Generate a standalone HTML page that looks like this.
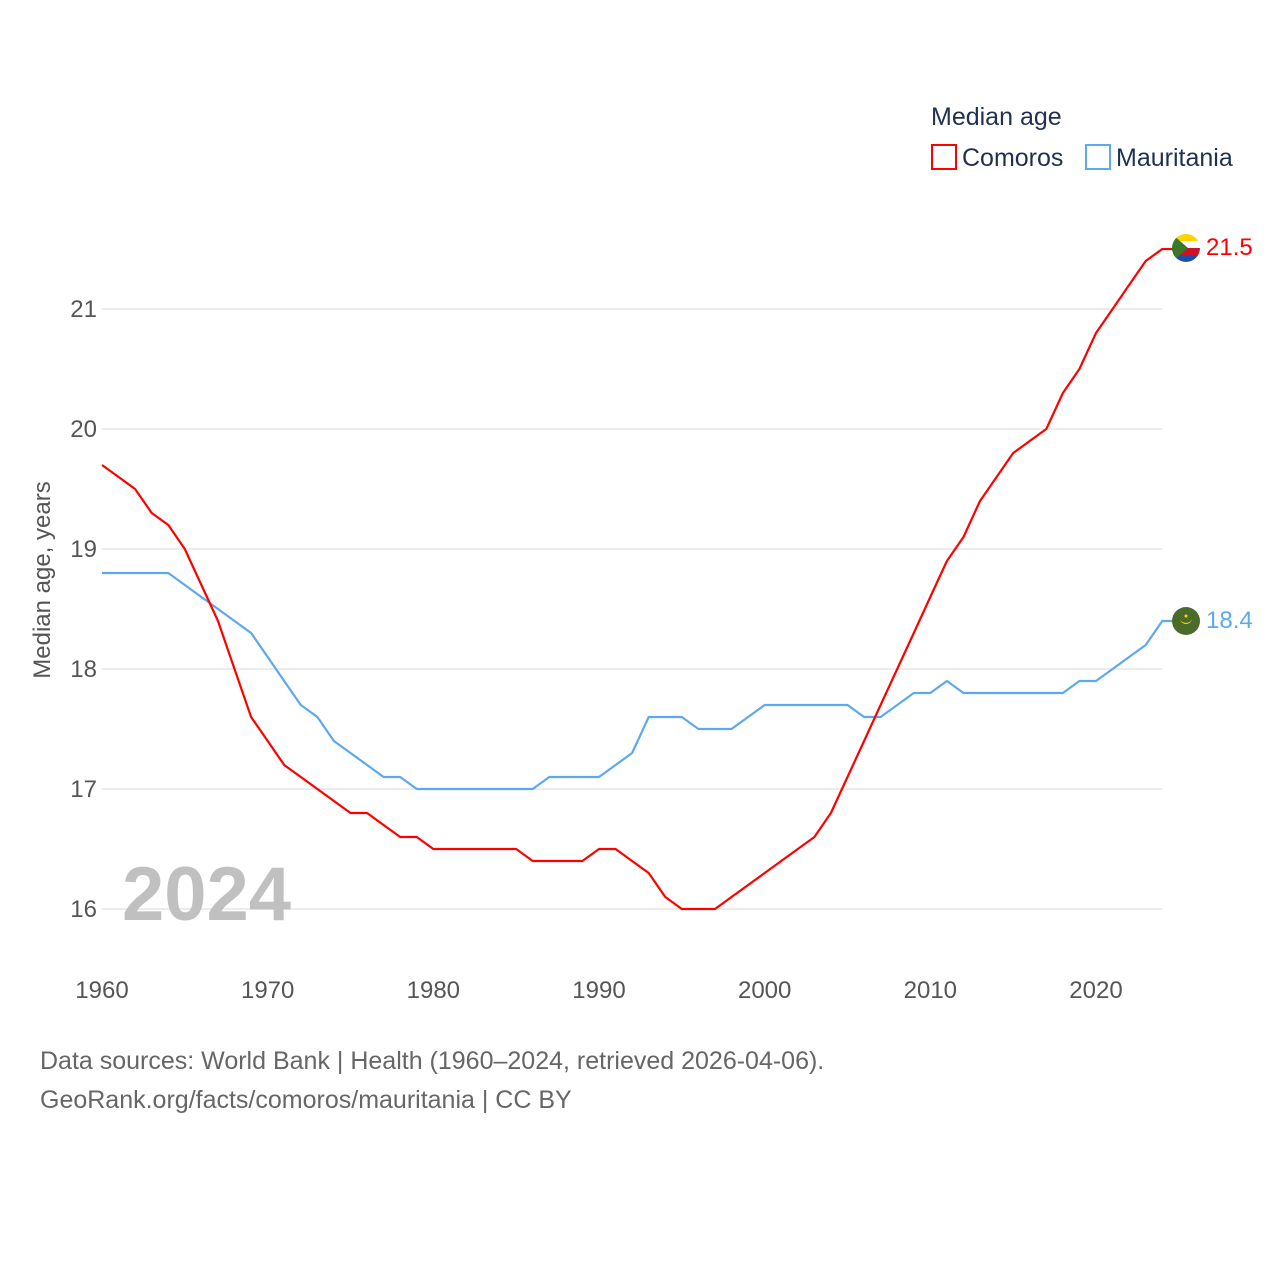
<!DOCTYPE html>
<html><head><meta charset="utf-8">
<style>
body{margin:0;background:#fff;font-family:"Liberation Sans",sans-serif;}
svg text{font-family:"Liberation Sans",sans-serif;}
</style></head>
<body>
<svg width="1280" height="1280" viewBox="0 0 1280 1280" xmlns="http://www.w3.org/2000/svg">
<rect width="1280" height="1280" fill="#fff"/>
<g id="grid"></g>
<g id="yt"></g>
<g id="xt"></g>
<text x="122" y="920" font-size="76" font-weight="bold" fill="#c0c0c0">2024</text>
<text transform="translate(50,580) rotate(-90)" text-anchor="middle" font-size="24" fill="#555">Median age, years</text>
<g id="lines"></g>
<g>
<text x="931" y="125" font-size="25" fill="#1f3050">Median age</text>
<g><rect x="932" y="145" width="24" height="24" fill="none" stroke="#ff0000" stroke-width="2"/><text x="962" y="166" font-size="25" fill="#1f3050">Comoros</text></g>
<g><rect x="1086" y="145" width="24" height="24" fill="none" stroke="#5ea8ee" stroke-width="2"/><text x="1116" y="166" font-size="25" fill="#1f3050">Mauritania</text></g>
</g>
<g>
<clipPath id="c1"><circle cx="1186" cy="248" r="14"/></clipPath>
<g clip-path="url(#c1)"><rect x="1172" y="234" width="28" height="7" fill="#ffd200"/><rect x="1172" y="241" width="28" height="7" fill="#fff"/><rect x="1172" y="248" width="28" height="7" fill="#ce1126"/><rect x="1172" y="255" width="28" height="7" fill="#1a4eaa"/><polygon points="1172,234 1188,248 1172,262" fill="#3a7728"/></g>
</g>
<g>
<circle cx="1186" cy="621" r="14" fill="#4a6b2a"/><path d="M1180,618 a6,6 0 0 0 12,0 a6,5 0 0 1 -12,0z" fill="#ffd700"/><circle cx="1186" cy="616" r="1.5" fill="#ffd700"/>
</g>
<text x="1206" y="255" font-size="24" fill="#ff0000">21.5</text>
<text x="1206" y="628" font-size="24" fill="#5ea8ee">18.4</text>
<text x="40" y="1069" font-size="25" fill="#666">Data sources: World Bank | Health (1960–2024, retrieved 2026-04-06).</text>
<text x="40" y="1108" font-size="25" fill="#666">GeoRank.org/facts/comoros/mauritania | CC BY</text>
</svg>
<script>
const years=[];for(let y=1960;y<=2024;y++)years.push(y);
const comoros=[19.7,19.6,19.5,19.3,19.2,19.0,18.7,18.4,18.0,17.6,17.4,17.2,17.1,17.0,16.9,16.8,16.8,16.7,16.6,16.6,16.5,16.5,16.5,16.5,16.5,16.5,16.4,16.4,16.4,16.4,16.5,16.5,16.4,16.3,16.1,16.0,16.0,16.0,16.1,16.2,16.3,16.4,16.5,16.6,16.8,17.1,17.4,17.7,18.0,18.3,18.6,18.9,19.1,19.4,19.6,19.8,19.9,20.0,20.3,20.5,20.8,21.0,21.2,21.4,21.5];
const mauritania=[18.8,18.8,18.8,18.8,18.8,18.7,18.6,18.5,18.4,18.3,18.1,17.9,17.7,17.6,17.4,17.3,17.2,17.1,17.1,17.0,17.0,17.0,17.0,17.0,17.0,17.0,17.0,17.1,17.1,17.1,17.1,17.2,17.3,17.6,17.6,17.6,17.5,17.5,17.5,17.6,17.7,17.7,17.7,17.7,17.7,17.7,17.6,17.6,17.7,17.8,17.8,17.9,17.8,17.8,17.8,17.8,17.8,17.8,17.8,17.9,17.9,18.0,18.1,18.2,18.4];
const yTicks=[16,17,18,19,20,21];
const xTicks=[1960,1970,1980,1990,2000,2010,2020];
const NS="http://www.w3.org/2000/svg";
const xs=y=>102+(y-1960)*(1096-102)/60;
const ys=v=>909-(v-16)*120;
function mk(t,a,p){const e=document.createElementNS(NS,t);for(const k in a)e.setAttribute(k,a[k]);p.appendChild(e);return e;}
const grid=document.getElementById('grid'),yt=document.getElementById('yt'),xt=document.getElementById('xt'),lines=document.getElementById('lines');
yTicks.forEach(v=>{
const l=mk('line',{x1:102,x2:1162,y1:ys(v),y2:ys(v),stroke:'#e6e6e6','stroke-width':1.5},grid);


const t=mk('text',{x:97,y:ys(v)+8,'text-anchor':'end','font-size':24,fill:'#555'},yt);t.textContent=v;


});
xTicks.forEach(v=>{
const t=mk('text',{x:xs(v),y:998,'text-anchor':'middle','font-size':24,fill:'#555'},xt);t.textContent=v;


});
function line(vals,col,name){
let d=vals.map((v,i)=>(i?'L':'M')+xs(years[i]).toFixed(1)+','+ys(v).toFixed(1)).join(' ');
d+=' L1186,'+ys(vals[vals.length-1]).toFixed(1);
const p=mk('path',{d:d,fill:'none',stroke:col,'stroke-width':2.2,'stroke-linejoin':'round'},lines);


}
line(mauritania,'#5ea8ee','mauritania-line');
line(comoros,'#ff0000','comoros-line');
</script>
</body></html>
